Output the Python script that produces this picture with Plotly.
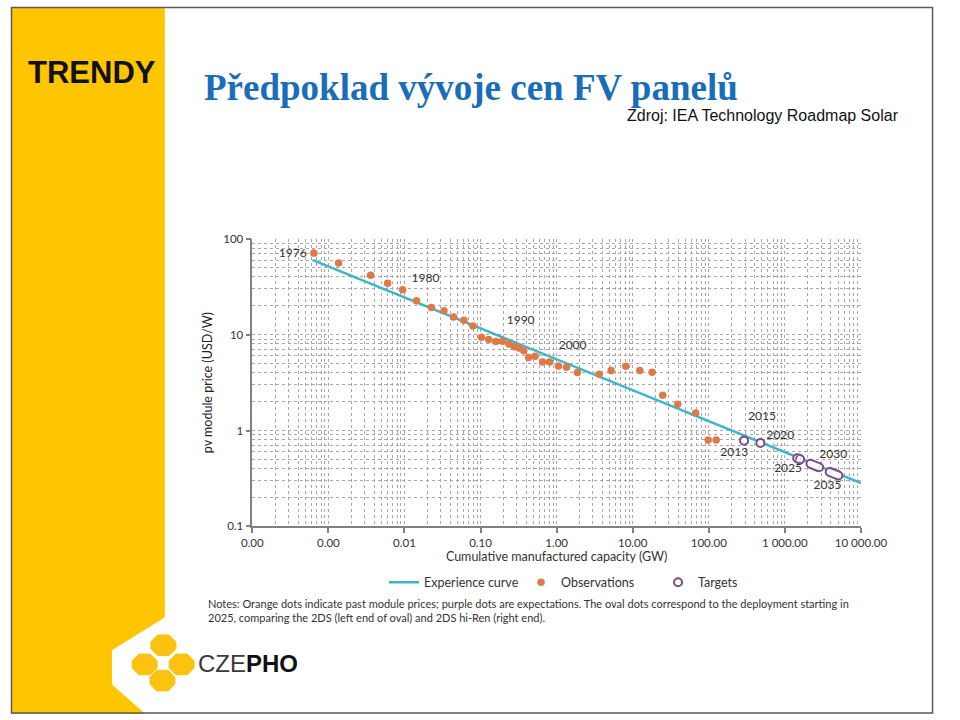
import numpy as np
import plotly.graph_objects as go

# ---------------- data ----------------
obs_capacity_gw = [0.000644, 0.00136, 0.00359, 0.00601, 0.00946, 0.0144, 0.0226, 0.0331,
                   0.0443, 0.0604, 0.0793, 0.103, 0.128, 0.159, 0.195, 0.236, 0.277, 0.321,
                   0.371, 0.429, 0.521, 0.652, 0.805, 1.057, 1.349, 1.875, 3.63, 5.20, 8.11,
                   12.4, 18.0, 24.8, 39.1, 67.3, 98.3, 125]
obs_price = [70.8, 55.9, 41.5, 34.4, 29.4, 22.5, 19.2, 17.8, 15.3, 14.1, 12.3, 9.4, 8.89,
             8.48, 8.55, 7.98, 7.48, 7.26, 6.81, 5.78, 5.96, 5.17, 5.17, 4.70, 4.56, 4.03,
             3.87, 4.22, 4.67, 4.22, 4.06, 2.34, 1.88, 1.52, 0.798, 0.798]

curve_capacity_gw = [0.000625, 10000]
curve_price = [59.9, 0.283]

target_capacity_gw = [291, 477]
target_price = [0.785, 0.743]

oval_left_capacity_gw = [1455, 2171, 3882]
oval_left_price = [0.515, 0.450, 0.370]
oval_right_capacity_gw = [1589, 2818, 5047]
oval_right_price = [0.5005, 0.4135, 0.340]

year_labels = ["1976", "1980", "1990", "2000", "2015", "2020", "2013", "2025", "2030", "2035"]
year_label_capacity_gw = [3.40e-4, 0.0189, 0.3365, 1.622, 501, 873, 216, 1102, 4325, 3631]
year_label_price = [68.5, 38.0, 13.8, 7.66, 1.371, 0.877, 0.587, 0.394, 0.560, 0.264]

x_tick_vals = [1e-4, 1e-3, 1e-2, 1e-1, 1, 10, 100, 1000, 10000]
x_tick_text = ["0.00", "0.00", "0.01", "0.10", "1.00", "10.00", "100.00", "1 000.00", "10 000.00"]
y_tick_vals = [0.1, 1, 10, 100]
y_tick_text = ["0.1", "1", "10", "100"]

# ---------------- styling ----------------
W, H = 960, 720
YELLOW = "#FFC600"
TEAL = "#3DB6CA"
ORANGE = "#DE7A48"
PURPLE = "#7D4B8C"
GRID = "#A8A8A8"
AXIS = "#808080"
TXT = "#333333"
CF = "Lato"


def px(x):
    return x / W


def py(y):
    return 1 - y / H


def minor_vals(lo, hi):
    vals = []
    for e in range(lo, hi):
        for m in range(2, 10):
            vals.append(m * 10 ** e)
    return vals


fig = go.Figure()

fig.add_trace(go.Scatter(x=curve_capacity_gw, y=curve_price, mode="lines",
                         line=dict(color=TEAL, width=2.5), name="Experience curve"))
fig.add_trace(go.Scatter(x=obs_capacity_gw, y=obs_price, mode="markers",
                         marker=dict(color=ORANGE, size=7.5, line=dict(width=0)),
                         name="Observations"))

# ovals: end caps, purple band, white interior
ox, oy = [], []
for xl, yl, xr, yr in zip(oval_left_capacity_gw, oval_left_price,
                          oval_right_capacity_gw, oval_right_price):
    ox += [xl, xr, None]
    oy += [yl, yr, None]
fig.add_trace(go.Scatter(x=oval_left_capacity_gw + oval_right_capacity_gw,
                         y=oval_left_price + oval_right_price, mode="markers",
                         marker=dict(color="white", size=8, line=dict(color=PURPLE, width=2)),
                         showlegend=False, hoverinfo="skip"))
fig.add_trace(go.Scatter(x=ox, y=oy, mode="lines", line=dict(color=PURPLE, width=10),
                         showlegend=False, hoverinfo="skip"))
fig.add_trace(go.Scatter(x=ox, y=oy, mode="lines", line=dict(color="white", width=6),
                         showlegend=False, hoverinfo="skip"))

fig.add_trace(go.Scatter(x=target_capacity_gw, y=target_price, mode="markers",
                         marker=dict(color="white", size=8, line=dict(color=PURPLE, width=2)),
                         name="Targets"))

fig.add_trace(go.Scatter(x=year_label_capacity_gw, y=year_label_price, mode="text",
                         text=year_labels, textposition="middle center",
                         textfont=dict(family=CF, size=12, color=TXT),
                         showlegend=False, hoverinfo="skip"))

common_axis = dict(type="log", showline=True, linecolor=AXIS, linewidth=1.5,
                   ticks="outside", ticklen=5, tickcolor=AXIS, tickwidth=1.5,
                   tickfont=dict(family=CF, size=11.5, color=TXT),
                   showgrid=True, gridcolor=GRID, griddash="dot", gridwidth=1,
                   zeroline=False, tickmode="array")

fig.update_xaxes(**common_axis, range=[-4, 4], domain=[px(251), px(884)],
                 tickvals=x_tick_vals, ticktext=x_tick_text,
                 minor=dict(tickmode="array", tickvals=minor_vals(-4, 4), showgrid=True,
                            gridcolor=GRID, griddash="dot", gridwidth=1, ticklen=0),
                 title=dict(text="Cumulative manufactured capacity (GW)",
                            font=dict(family=CF, size=12.5, color=TXT), standoff=4))
fig.update_yaxes(**common_axis, range=[-1, 2], domain=[py(529), py(236)],
                 tickvals=y_tick_vals, ticktext=y_tick_text,
                 minor=dict(tickmode="array", tickvals=minor_vals(-1, 2), showgrid=True,
                            gridcolor=GRID, griddash="dot", gridwidth=1, ticklen=0),
                 title=dict(text="pv module price (USD/W)",
                            font=dict(family=CF, size=12.5, color="#222222"), standoff=8))

shapes = []
shapes.append(dict(type="rect", xref="paper", yref="paper", x0=0, x1=px(160), y0=0, y1=1,
                   fillcolor=YELLOW, line=dict(width=0), layer="below"))
cut = [(161, 621), (105, 655), (105, 690), (141, 721), (161, 721)]
path = "M " + " L ".join(f"{px(a):.5f} {py(b):.5f}" for a, b in cut) + " Z"
shapes.append(dict(type="path", xref="paper", yref="paper", path=path,
                   fillcolor="white", line=dict(width=0), layer="below"))


def octagon(cx, cy, w, h, c):
    pts = [(cx - w / 2 + c, cy - h / 2), (cx + w / 2 - c, cy - h / 2), (cx + w / 2, cy - h / 2 + c),
           (cx + w / 2, cy + h / 2 - c), (cx + w / 2 - c, cy + h / 2), (cx - w / 2 + c, cy + h / 2),
           (cx - w / 2, cy + h / 2 - c), (cx - w / 2, cy - h / 2 + c)]
    return "M " + " L ".join(f"{px(a):.5f} {py(b):.5f}" for a, b in pts) + " Z"


for cx, cy in [(158.5, 650), (139, 669.5), (177.5, 669.5), (157.5, 686)]:
    shapes.append(dict(type="path", xref="paper", yref="paper", path=octagon(cx, cy, 26, 21, 7),
                       fillcolor="#FBC20F", line=dict(color="#FBC20F", width=1), layer="below"))

shapes.append(dict(type="rect", xref="paper", yref="paper", x0=px(0.5), x1=px(958.5),
                   y0=py(719), y1=py(0.5), line=dict(color="#5a5a5a", width=1.5),
                   fillcolor="rgba(0,0,0,0)"))

annotations = [
    dict(text="<b>TRENDY</b>", x=px(84), y=py(67), xref="paper", yref="paper",
         showarrow=False, font=dict(family="Liberation Sans", size=31, color="#111111"),
         xanchor="center", yanchor="middle"),
    dict(text="<b>Předpoklad vývoje cen FV panelů</b>", x=px(199), y=py(82), xref="paper",
         yref="paper", showarrow=False,
         font=dict(family="Liberation Serif", size=37, color="#1A6DB8"),
         xanchor="left", yanchor="middle"),
    dict(text="Zdroj: IEA Technology Roadmap Solar", x=px(926), y=py(111), xref="paper",
         yref="paper", showarrow=False,
         font=dict(family="Liberation Sans", size=16, color="#111111"),
         xanchor="right", yanchor="middle"),
    dict(text="Notes: Orange dots indicate past module prices; purple dots are expectations. "
              "The oval dots correspond to the deployment starting in<br>"
              "2025, comparing the 2DS (left end of oval) and 2DS hi-Ren (right end).",
         x=px(203), y=py(615), xref="paper", yref="paper", showarrow=False, align="left",
         font=dict(family=CF, size=11, color=TXT), xanchor="left", yanchor="middle"),
    dict(text="<span style='color:#3a3a3a'>CZE</span><b>PHO</b>", x=px(192), y=py(669),
         xref="paper", yref="paper", showarrow=False,
         font=dict(family="Liberation Sans", size=24, color="#111111"),
         xanchor="left", yanchor="middle"),
]

fig.update_layout(
    width=W, height=H, autosize=False, margin=dict(l=0, r=0, t=0, b=0),
    paper_bgcolor="white", plot_bgcolor="rgba(0,0,0,0)",
    shapes=shapes, annotations=annotations,
    showlegend=True,
    legend=dict(orientation="h", x=px(388), y=py(571), xanchor="left", yanchor="top",
                font=dict(family=CF, size=12.5, color=TXT), bgcolor="rgba(0,0,0,0)",
                itemwidth=30, entrywidth=92, entrywidthmode="pixels"),
)

fig.write_html("out.html",
               config={"responsive": False, "displayModeBar": False},
               post_script="document.body.style.margin='0';document.body.style.overflow='hidden';")
